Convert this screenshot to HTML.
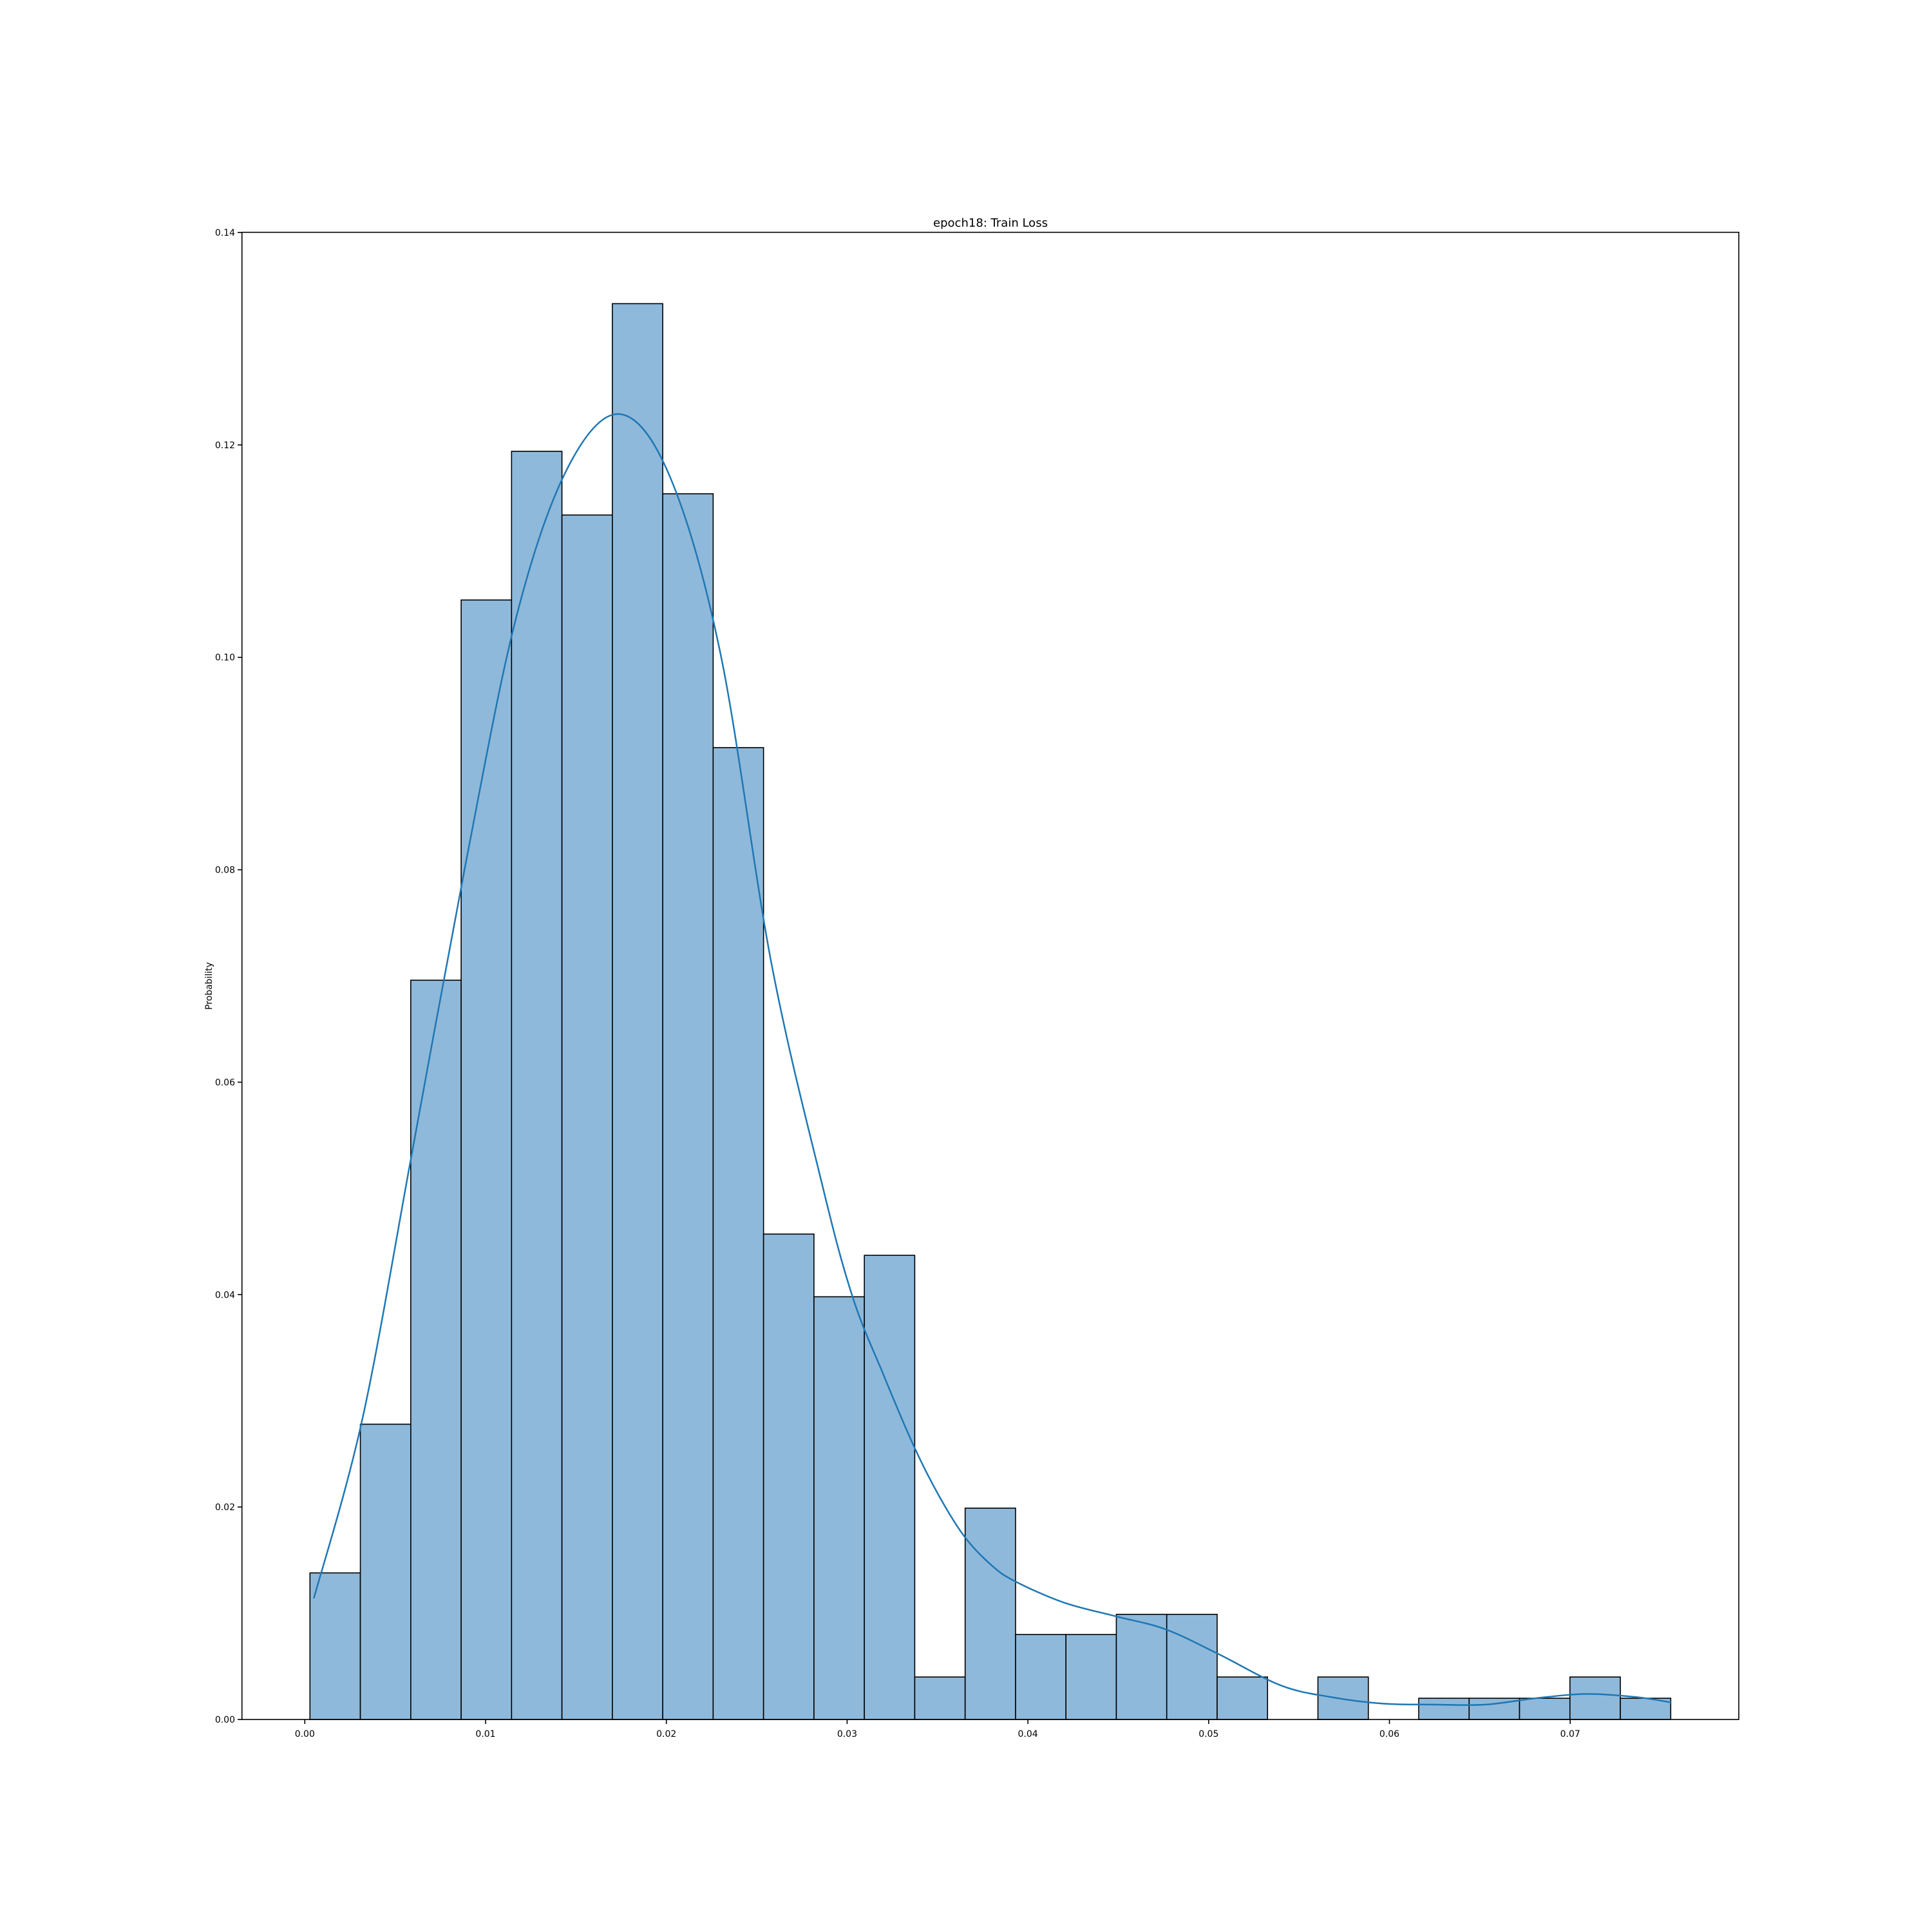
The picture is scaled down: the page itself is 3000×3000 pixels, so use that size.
<!DOCTYPE html>
<html><head><meta charset="utf-8"><style>
html,body{margin:0;padding:0;background:#fff;}
svg{display:block;font-family:"DejaVu Sans","Liberation Sans",sans-serif;}
</style></head><body>
<svg id="chart" width="3000" height="3000" viewBox="0 0 3000 3000" xmlns="http://www.w3.org/2000/svg">
<rect width="3000" height="3000" fill="#fff"/>
<text x="1538" y="352" font-size="18" text-anchor="middle">epoch18: Train Loss</text>
<text x="0" y="0" font-size="14" text-anchor="middle" transform="translate(329,1531) rotate(-90)">Probability</text>
<g id="bars"></g>
<path id="kde" fill="none" stroke="#1f77b4" stroke-width="2.5"/>
<rect x="375.7" y="360.7" width="2324.3" height="2309.3" fill="none" stroke="#000" stroke-width="1.6"/>
<g id="ticks"></g>
</svg>
<script>
const binStart = 0.000285;
const binWidth = 0.002788;
const probs = [0.0138,0.0278,0.0696,0.1054,0.1194,0.1134,0.1333,0.1154,0.0915,0.0457,0.0398,0.0437,0.0040,0.0199,0.0080,0.0080,0.0099,0.0099,0.0040,0,0.0040,0,0.0020,0.0020,0.0020,0.0040,0.0020];
const kdeX = [0.0005,0.0032,0.0060,0.0089,0.0117,0.0145,0.0174,0.0202,0.0230,0.0258,0.0286,0.0303,0.0320,0.0337,0.0351,0.0365,0.0380,0.0393,0.0420,0.0449,0.0476,0.0505,0.0540,0.0568,0.0596,0.0624,0.0653,0.0681,0.0709,0.0737,0.0756];
const kdeY = [0.0114,0.0284,0.0540,0.0806,0.1038,0.1177,0.1229,0.1170,0.1003,0.0713,0.0505,0.0398,0.0325,0.0257,0.0210,0.0172,0.0145,0.0130,0.0110,0.0097,0.0085,0.0062,0.0032,0.0021,0.0015,0.0014,0.0014,0.0020,0.0024,0.0021,0.0016];
const xTicks = [0,0.01,0.02,0.03,0.04,0.05,0.06,0.07];
const xTickLabels = ["0.00","0.01","0.02","0.03","0.04","0.05","0.06","0.07"];
const yTicks = [0,0.02,0.04,0.06,0.08,0.10,0.12,0.14];
const yTickLabels = ["0.00","0.02","0.04","0.06","0.08","0.10","0.12","0.14"];

const NS="http://www.w3.org/2000/svg";
function sx(v){return 473.3+v*28070;}
function sy(v){return 2670-v*16493;}
const bars=document.getElementById('bars');
probs.forEach((p,i)=>{
  if(p<=0) return;
  const x0=sx(binStart+i*binWidth), x1=sx(binStart+(i+1)*binWidth);
  const r=document.createElementNS(NS,'rect');
  
  
  r.setAttribute('x',x0);r.setAttribute('y',sy(p));
  r.setAttribute('width',x1-x0);r.setAttribute('height',sy(0)-sy(p));
  r.setAttribute('fill','#8fb9da');r.setAttribute('stroke','#000');r.setAttribute('stroke-width','1.6');
  bars.appendChild(r);
});
const pts=kdeX.map((x,i)=>[sx(x),sy(kdeY[i])]);
let d='M'+pts[0][0]+','+pts[0][1];
for(let i=0;i<pts.length-1;i++){
  const p0=pts[Math.max(0,i-1)],p1=pts[i],p2=pts[i+1],p3=pts[Math.min(pts.length-1,i+2)];
  const c1=[p1[0]+(p2[0]-p0[0])/6,p1[1]+(p2[1]-p0[1])/6];
  const c2=[p2[0]-(p3[0]-p1[0])/6,p2[1]-(p3[1]-p1[1])/6];
  d+=' C'+c1[0]+','+c1[1]+' '+c2[0]+','+c2[1]+' '+p2[0]+','+p2[1];
}
document.getElementById('kde').setAttribute('d',d);
const tg=document.getElementById('ticks');
xTicks.forEach((t,i)=>{
  const x=sx(t);
  const l=document.createElementNS(NS,'line');
  
  
  l.setAttribute('x1',x);l.setAttribute('x2',x);l.setAttribute('y1',2670);l.setAttribute('y2',2677);
  l.setAttribute('stroke','#000');l.setAttribute('stroke-width','1.6');tg.appendChild(l);
  const tx=document.createElementNS(NS,'text');
  
  
  tx.setAttribute('x',x);tx.setAttribute('y',2697);tx.setAttribute('font-size','14');tx.setAttribute('text-anchor','middle');
  tx.textContent=xTickLabels[i];tg.appendChild(tx);
});
yTicks.forEach((t,i)=>{
  const y=sy(t);
  const l=document.createElementNS(NS,'line');
  
  
  l.setAttribute('x1',369);l.setAttribute('x2',375.7);l.setAttribute('y1',y);l.setAttribute('y2',y);
  l.setAttribute('stroke','#000');l.setAttribute('stroke-width','1.6');tg.appendChild(l);
  const tx=document.createElementNS(NS,'text');
  
  
  tx.setAttribute('x',365);tx.setAttribute('y',y+5);tx.setAttribute('font-size','14');tx.setAttribute('text-anchor','end');
  tx.textContent=yTickLabels[i];tg.appendChild(tx);
});
</script>
</body></html>
